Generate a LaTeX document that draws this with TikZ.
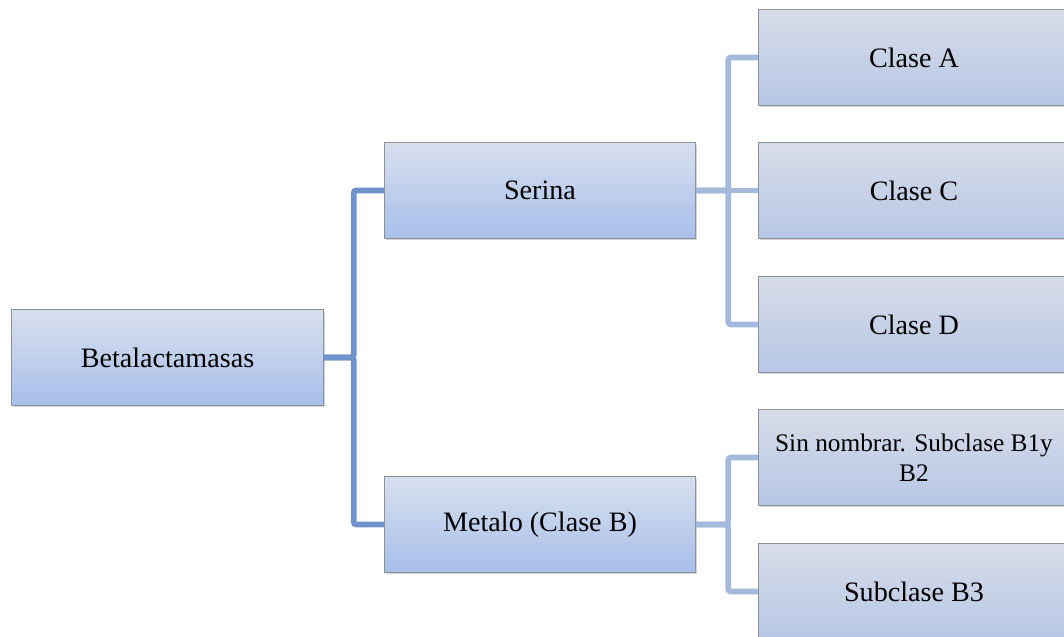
\documentclass[tikz,border=0pt]{standalone}
\usepackage{fontspec}
\setmainfont{Liberation Serif}
\usetikzlibrary{shadows, calc}
\definecolor{BoxTop}{RGB}{215, 223, 238}
\definecolor{BoxBottom}{RGB}{168, 191, 234}
\definecolor{LeafTop}{RGB}{215, 220, 231}
\definecolor{LeafBottom}{RGB}{183, 199, 230}
\definecolor{BoxEdge}{RGB}{140, 146, 156}
\definecolor{TrunkBlue}{RGB}{112, 146, 204}
\definecolor{BranchBlue}{RGB}{165, 185, 221}

\begin{document}
\begin{tikzpicture}[x=0.025cm, y=-0.025cm,
    catbox/.style={draw=BoxEdge, line width=0.8pt, top color=BoxTop, bottom color=BoxBottom,
      minimum width=7.78cm, minimum height=2.38cm, inner sep=2pt,
      font=\fontsize{20}{24}\selectfont, align=center,
      drop shadow={shadow xshift=1.2pt, shadow yshift=-1.5pt, opacity=0.35}},
    leafbox/.style={catbox, top color=LeafTop, bottom color=LeafBottom},
    trunk/.style={TrunkBlue, line width=4.2pt, rounded corners=2pt},
    branch/.style={BranchBlue, line width=4.2pt, rounded corners=2pt}]
    \useasboundingbox (0,0) rectangle (1064,637);
    \clip (0,0) rectangle (1064,637);

    % First level
    \node[catbox] (beta) at (167.5,357.5) {Betalactamasas};
    \node[catbox] (serina) at (540,190.5) {Serina};
    \node[catbox] (metalo) at (540,524.5) {Metalo (Clase B)};

    % Classes
    \node[leafbox] (claseA) at (914,57.5) {Clase A};
    \node[leafbox] (claseC) at (914,190.5) {Clase C};
    \node[leafbox] (claseD) at (914,324.5) {Clase D};
    \node[leafbox, font=\fontsize{18}{21}\selectfont] (sinnom) at (914,457.5) {Sin nombrar. Subclase B1y\\B2};
    \node[leafbox] (subB3) at (914,591.5) {Subclase B3};

    % Connectors
    \draw[trunk] (beta.east) -- ++(30,0) |- (serina.west);
    \draw[trunk] (beta.east) -- ++(30,0) |- (metalo.west);
    \draw[branch] (serina.east) -- ++(32,0) |- (claseA.west);
    \draw[branch] (serina.east) -- (claseC.west);
    \draw[branch] (serina.east) -- ++(32,0) |- (claseD.west);
    \draw[branch] (metalo.east) -- ++(32,0) |- (sinnom.west);
    \draw[branch] (metalo.east) -- ++(32,0) |- (subB3.west);
\end{tikzpicture}
\end{document}
